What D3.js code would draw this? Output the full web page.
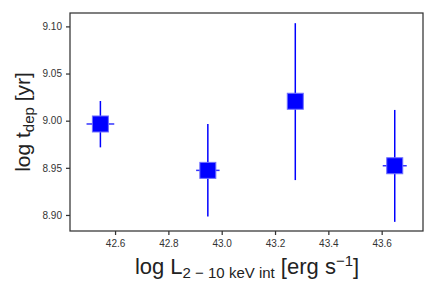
<!DOCTYPE html>
<html>
<head>
<meta charset="utf-8">
<script src="https://cdn.jsdelivr.net/npm/d3@7"></script>
<style>
  body { margin: 0; background: #fff; }
  text { font-family: "Liberation Sans", Arial, sans-serif; }
</style>
</head>
<body>
<svg id="chart" width="436" height="291"></svg>
<script>
// data
var log_lx = [42.545, 42.948, 43.276, 43.649];
var log_tdep = [8.9965, 8.9473, 9.0206, 8.9522];
var err_x = [0.052, 0.044, 0.0, 0.045];
var err_y_lo = [0.0248, 0.0488, 0.0836, 0.0595];
var err_y_hi = [0.0244, 0.0492, 0.0828, 0.0592];
var x_ticks = [42.6, 42.8, 43.0, 43.2, 43.4, 43.6];
var y_ticks = [8.90, 8.95, 9.00, 9.05, 9.10];

var margin = {left: 70, right: 13, top: 13, bottom: 60};
var width = 436, height = 291;

var svg = d3.select('#chart');

var x = d3.scaleLinear()
    .domain([42.431, 43.755])
    .range([margin.left, width - margin.right]);
var y = d3.scaleLinear()
    .domain([8.883, 9.1142])
    .range([height - margin.bottom, margin.top]);

var points = log_lx.map(function(d, i) {
    return {x: d, y: log_tdep[i], ex: err_x[i], lo: err_y_lo[i], hi: err_y_hi[i]};
});

// error bars
var bars = svg.append('g').attr('class', 'errbars');
bars.selectAll('line.ey')
    .data(points)
    .enter()
    .append('line')
    .attr('class', 'ey')
    .attr('x1', function(d) { return x(d.x); })
    .attr('x2', function(d) { return x(d.x); })
    .attr('y1', function(d) { return y(d.y - d.lo); })
    .attr('y2', function(d) { return y(d.y + d.hi); })
    .style('stroke', '#0000ff')
    .style('stroke-width', 1.5);
bars.selectAll('line.ex')
    .data(points.filter(function(d) { return d.ex > 0; }))
    .enter()
    .append('line')
    .attr('class', 'ex')
    .attr('x1', function(d) { return x(d.x - d.ex); })
    .attr('x2', function(d) { return x(d.x + d.ex); })
    .attr('y1', function(d) { return y(d.y); })
    .attr('y2', function(d) { return y(d.y); })
    .style('stroke', '#0000ff')
    .style('stroke-width', 1.5)
    .style('stroke-opacity', 0.8);

// square markers
var sq = 16;
svg.append('g').attr('class', 'markers')
    .selectAll('rect')
    .data(points)
    .enter()
    .append('rect')
    .attr('x', function(d) { return x(d.x) - sq / 2; })
    .attr('y', function(d) { return y(d.y) - sq / 2; })
    .attr('width', sq)
    .attr('height', sq)
    .style('fill', '#0000ff')
    .style('stroke', '#6f6fff')
    .style('stroke-width', 1);

// axes
var xAxis = svg.append('g')
    .attr('transform', 'translate(0,' + (height - margin.bottom) + ')')
    .call(d3.axisBottom(x).tickValues(x_ticks).tickFormat(d3.format('.1f')).tickSize(4).tickPadding(5));
var yAxis = svg.append('g')
    .attr('transform', 'translate(' + margin.left + ',0)')
    .call(d3.axisLeft(y).tickValues(y_ticks).tickFormat(d3.format('.2f')).tickSize(4).tickPadding(4));

[xAxis, yAxis].forEach(function(ax) {
    ax.select('.domain').remove();
    ax.selectAll('line').style('stroke', '#333').style('stroke-width', 1.25);
    ax.selectAll('text').style('font-size', '10px').style('fill', '#333')
        .style('font-family', '"Liberation Sans", Arial, sans-serif');
});

// frame
svg.append('rect')
    .attr('x', margin.left)
    .attr('y', margin.top)
    .attr('width', width - margin.left - margin.right)
    .attr('height', height - margin.top - margin.bottom)
    .style('fill', 'none')
    .style('stroke', '#333')
    .style('stroke-width', 1.25);

// axis labels
var xl = svg.append('text')
    .attr('x', 247)
    .attr('y', 274)
    .attr('text-anchor', 'middle')
    .style('font-size', '22px')
    .style('fill', '#222');
xl.append('tspan').text('log L');
xl.append('tspan').attr('dy', 4).style('font-size', '15px').text('2 \u2212 10 keV int');
xl.append('tspan').attr('dy', -4).text(' [erg s');
xl.append('tspan').attr('dy', -8).style('font-size', '15px').text('\u22121');
xl.append('tspan').attr('dy', 8).text(']');

var yl = svg.append('text')
    .attr('transform', 'translate(30,' + ((margin.top + height - margin.bottom) / 2) + ') rotate(-90)')
    .attr('text-anchor', 'middle')
    .style('font-size', '21px')
    .style('fill', '#222');
yl.append('tspan').text('log t');
yl.append('tspan').attr('dy', 4).style('font-size', '15px').text('dep');
yl.append('tspan').attr('dy', -4).text(' [yr]');
</script>
</body>
</html>
